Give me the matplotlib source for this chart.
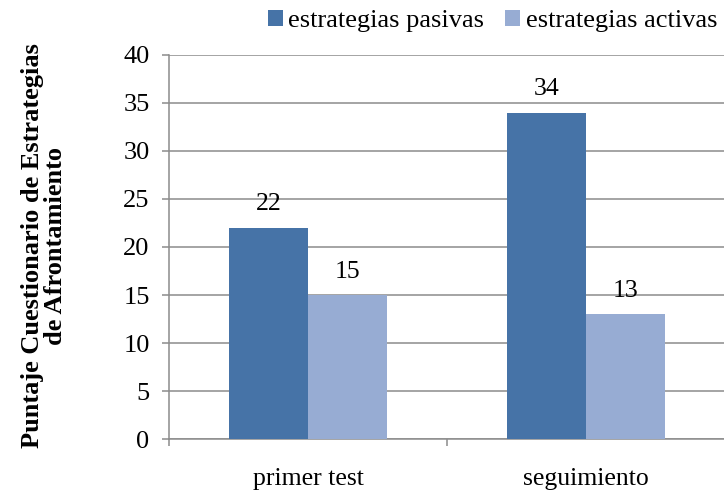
import numpy as np
import matplotlib
matplotlib.use('Agg')
import matplotlib.pyplot as plt

categories = ['primer test', 'seguimiento']
series_names = ['estrategias pasivas', 'estrategias activas']
pasivas = [22, 34]
activas = [15, 13]
colors = ['#4673A7', '#97ACD3']

plt.rcParams['font.family'] = ['Liberation Serif', 'DejaVu Serif']

fig = plt.figure(figsize=(7.24, 4.98), dpi=100)
ax = fig.add_axes([169 / 724, 1 - 439 / 498, 556 / 724, 384 / 498])

x = np.arange(len(categories))
w = 0.284
ax.bar(x - w / 2, pasivas, w, color=colors[0], label=series_names[0], zorder=3)
ax.bar(x + w / 2, activas, w, color=colors[1], label=series_names[1], zorder=3)

for xi, v in zip(x - w / 2, pasivas):
    ax.text(xi, v + 1.3, str(v), ha='center', va='bottom', fontsize=18.5)
for xi, v in zip(x + w / 2, activas):
    ax.text(xi, v + 1.3, str(v), ha='center', va='bottom', fontsize=18.5)

ax.set_xlim(-0.5, 1.5)
ax.set_ylim(0, 40)
ax.set_yticks(range(0, 41, 5))
ax.tick_params(axis='y', labelsize=19, length=5, color='#8c8c8c', width=1.1, pad=9)
ax.yaxis.grid(True, color='#8c8c8c', linewidth=1.1, zorder=0)

ax.set_xticks([-0.5, 0.5, 1.5])
ax.set_xticklabels([])
ax.tick_params(axis='x', length=5, color='#8c8c8c', width=1.1)
for xi, lab in zip(x, categories):
    ax.text(xi, -0.076, lab, transform=ax.get_xaxis_transform(), ha='center', va='top', fontsize=18.5)

for s in ['top', 'right']:
    ax.spines[s].set_visible(False)
for s in ['left', 'bottom']:
    ax.spines[s].set_color('#8c8c8c')
    ax.spines[s].set_linewidth(1.1)

fig.text(44 / 724, 1 - 246 / 498, 'Puntaje Cuestionario de Estrategias\nde Afrontamiento', fontsize=19,
         fontweight='bold', rotation=90, ha='center', va='center', linespacing=1.0, multialignment='center')

leg = ax.legend(loc='center left', bbox_to_anchor=(268 / 724, 1 - 21 / 498), bbox_transform=fig.transFigure,
                ncol=2, frameon=False, fontsize=19, handlelength=0.57, handleheight=0.57,
                handletextpad=0.2, columnspacing=0.8, borderaxespad=0, borderpad=0)

fig.savefig('out.png', dpi=100)
